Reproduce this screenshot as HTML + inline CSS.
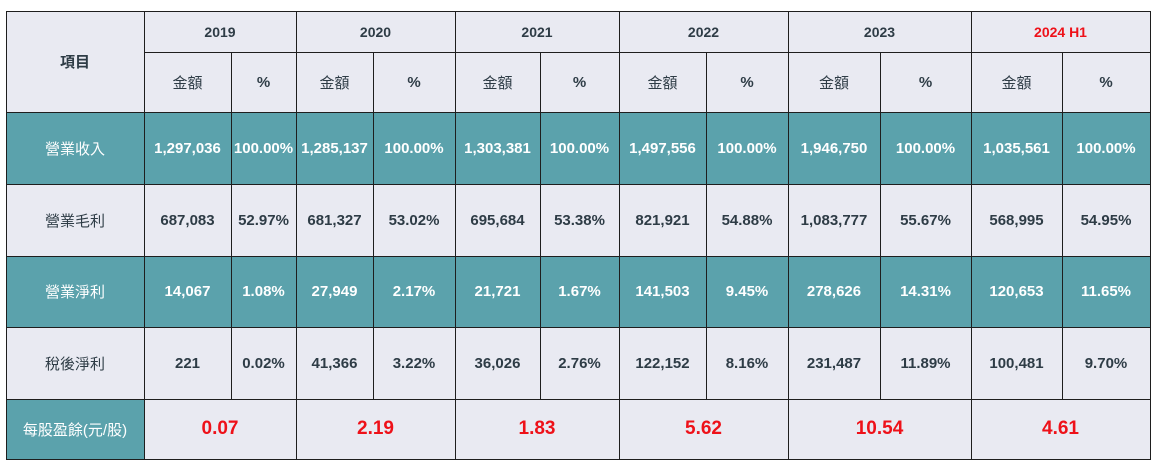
<!DOCTYPE html>
<html><head><meta charset="utf-8">
<style>
body{margin:0;background:#fff;width:1164px;height:471px;overflow:hidden;position:relative;font-family:"Liberation Sans","Noto Sans CJK TC",sans-serif;}
.c{position:absolute;box-sizing:border-box;border:1px solid #1e1e1e;display:flex;align-items:center;justify-content:center;font-weight:bold;font-size:15px;color:#2e3c46;background:#e9eaf2;white-space:nowrap;margin:-0.5px 0 0 -0.5px}
.t{background:#5ba2ac;color:#fff}
.hd{font-weight:normal;font-size:15px}
.yr{font-size:14px}
.eps{color:#ee1119;font-size:19px}
</style></head><body>
<div id="tbl"></div>
<script>
const xs=[6,144,231,296,373,455,540,619,706,788,880,971,1062,1150];
const ys=[11,52,112,184,256,327,399,459];
const years=["2019","2020","2021","2022","2023","2024 H1"];
const items=["營業收入","營業毛利","營業淨利","稅後淨利"];
const amounts=[["1,297,036","1,285,137","1,303,381","1,497,556","1,946,750","1,035,561"],["687,083","681,327","695,684","821,921","1,083,777","568,995"],["14,067","27,949","21,721","141,503","278,626","120,653"],["221","41,366","36,026","122,152","231,487","100,481"]];
const pcts=[["100.00%","100.00%","100.00%","100.00%","100.00%","100.00%"],["52.97%","53.02%","53.38%","54.88%","55.67%","54.95%"],["1.08%","2.17%","1.67%","9.45%","14.31%","11.65%"],["0.02%","3.22%","2.76%","8.16%","11.89%","9.70%"]];
const eps=["0.07","2.19","1.83","5.62","10.54","4.61"];
const T=document.getElementById('tbl');
function cell(c0,c1,r0,r1,txt,cls,name){
  const d=document.createElement('div');
  d.className='c '+(cls||'');
  d.style.left=xs[c0]+'px';d.style.top=ys[r0]+'px';
  d.style.width=(xs[c1]-xs[c0]+1)+'px';d.style.height=(ys[r1]-ys[r0]+1)+'px';
  d.textContent=txt;
  
  
  T.appendChild(d);return d;
}
cell(0,1,0,2,'項目','','item-header');
years.forEach((y,i)=>{
  const d=cell(1+2*i,3+2*i,0,1,y,'yr','year-header');
  if(i===5)d.style.color='#ee1119';
  cell(1+2*i,2+2*i,1,2,'金額','hd','amount-header');
  cell(2+2*i,3+2*i,1,2,'%','','percent-header');
});
items.forEach((it,r)=>{
  const cls=(r%2===0)?'t':'';
  cell(0,1,2+r,3+r,it,cls+' hd','row-label');
  for(let i=0;i<6;i++){
    cell(1+2*i,2+2*i,2+r,3+r,amounts[r][i],cls,'amount-cell');
    cell(2+2*i,3+2*i,2+r,3+r,pcts[r][i],cls,'percent-cell');
  }
});
cell(0,1,6,7,'每股盈餘(元/股)','t hd','eps-label');
eps.forEach((v,i)=>{cell(1+2*i,3+2*i,6,7,v,'eps','eps-value');});
</script>
</body></html>
